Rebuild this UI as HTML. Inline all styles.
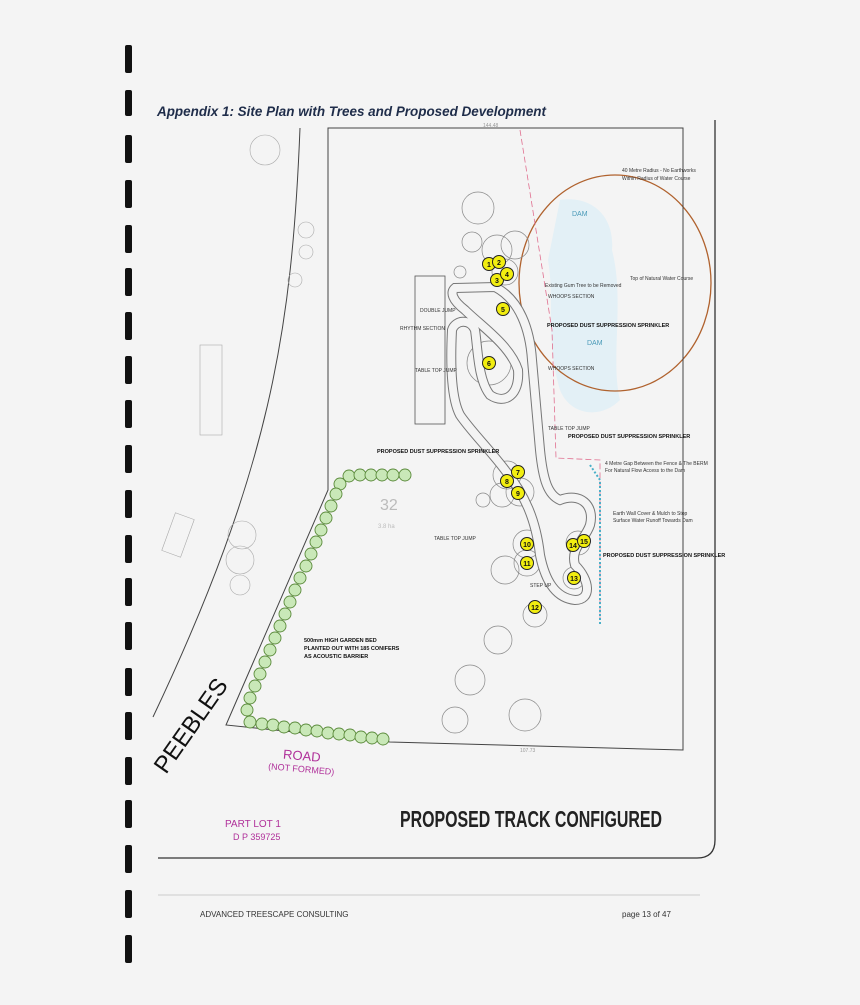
<!DOCTYPE html>
<html><head><meta charset="utf-8"><style>
html,body{margin:0;padding:0;background:#f4f4f4;}
body{width:860px;height:1005px;position:relative;overflow:hidden;font-family:"Liberation Sans",sans-serif;}
.bar{position:absolute;left:125px;width:7px;background:#111;border-radius:2px;}
</style></head><body>
<div class="bar" style="top:45px;height:28px"></div>
<div class="bar" style="top:90px;height:26px"></div>
<div class="bar" style="top:135px;height:28px"></div>
<div class="bar" style="top:180px;height:28px"></div>
<div class="bar" style="top:225px;height:28px"></div>
<div class="bar" style="top:268px;height:28px"></div>
<div class="bar" style="top:312px;height:28px"></div>
<div class="bar" style="top:356px;height:28px"></div>
<div class="bar" style="top:400px;height:28px"></div>
<div class="bar" style="top:445px;height:28px"></div>
<div class="bar" style="top:490px;height:28px"></div>
<div class="bar" style="top:535px;height:28px"></div>
<div class="bar" style="top:578px;height:28px"></div>
<div class="bar" style="top:622px;height:28px"></div>
<div class="bar" style="top:668px;height:28px"></div>
<div class="bar" style="top:712px;height:28px"></div>
<div class="bar" style="top:757px;height:28px"></div>
<div class="bar" style="top:800px;height:28px"></div>
<div class="bar" style="top:845px;height:28px"></div>
<div class="bar" style="top:890px;height:28px"></div>
<div class="bar" style="top:935px;height:28px"></div>
<svg width="860" height="1005" style="position:absolute;left:0;top:0" font-family="Liberation Sans, sans-serif">
<text x="157" y="116" font-size="14" font-weight="bold" font-style="italic" fill="#1f2d4a" textLength="389" lengthAdjust="spacingAndGlyphs">Appendix 1: Site Plan with Trees and Proposed Development</text>
<!-- frame -->
<path d="M715,120 L715,840 Q715,858 697,858 L158,858" fill="none" stroke="#333" stroke-width="1.3"/>
<line x1="158" y1="895" x2="700" y2="895" stroke="#ccc" stroke-width="1"/>
<!-- dam -->
<path d="M560,200 C590,195 615,215 612,250 C625,300 610,360 620,400 C600,420 570,415 560,390 C545,340 555,300 548,260 Z" fill="#e3f0f6"/>
<ellipse cx="615" cy="283" rx="96" ry="108" fill="none" stroke="#b0622e" stroke-width="1.3"/>
<!-- road lines -->
<path d="M300,128 C292,330 270,470 153,717" fill="none" stroke="#444" stroke-width="1"/>
<!-- lot boundary -->
<path d="M328,128 L683,128 L683,750 L390,742 L226,725 L328,490 Z" fill="none" stroke="#444" stroke-width="1"/>
<!-- pink dashed -->
<path d="M520,130 L552,330 L556,458 L600,460 L600,620" fill="none" stroke="#e07090" stroke-width="0.8" stroke-dasharray="6,3"/>
<path d="M590,465 L600,480 L600,625" fill="none" stroke="#4ab0c8" stroke-width="2" stroke-dasharray="2,2"/>
<!-- building -->
<rect x="415" y="276" width="30" height="148" fill="none" stroke="#555" stroke-width="0.8"/>
<!-- faint left structures -->
<g fill="none" stroke="#aaa" stroke-width="0.6">
<rect x="200" y="345" width="22" height="90"/>
<rect x="168" y="515" width="20" height="40" transform="rotate(20 178 535)"/>
<circle cx="306" cy="230" r="8"/><circle cx="306" cy="252" r="7"/><circle cx="295" cy="280" r="7"/>
<circle cx="265" cy="150" r="15"/><circle cx="242" cy="535" r="14"/><circle cx="240" cy="560" r="14"/><circle cx="240" cy="585" r="10"/>
</g>
<!-- tree canopies -->
<g fill="none" stroke="#888" stroke-width="0.7">
<circle cx="478" cy="208" r="16"/><circle cx="472" cy="242" r="10"/><circle cx="497" cy="250" r="15"/><circle cx="515" cy="245" r="14"/><circle cx="505" cy="272" r="13"/>
<circle cx="460" cy="272" r="6"/><circle cx="489" cy="363" r="22"/>
<circle cx="507" cy="475" r="14"/><circle cx="520" cy="492" r="14"/><circle cx="502" cy="495" r="12"/>
<circle cx="527" cy="544" r="14"/><circle cx="527" cy="563" r="13"/><circle cx="505" cy="570" r="14"/><circle cx="574" cy="578" r="11"/><circle cx="578" cy="543" r="12"/>
<circle cx="535" cy="615" r="12"/><circle cx="498" cy="640" r="14"/><circle cx="470" cy="680" r="15"/><circle cx="525" cy="715" r="16"/><circle cx="455" cy="720" r="13"/><circle cx="483" cy="500" r="7"/>
</g>
<!-- track -->
<path d="M455,288 L495,287 C520,300 530,330 532,360 L540,450 C543,480 548,495 560,500 C580,492 595,505 590,525 C585,540 570,548 575,565 C590,580 592,600 575,600 C555,598 545,580 540,555 C536,520 525,495 505,470 C490,450 470,430 460,415 C452,400 450,370 452,330 C455,320 470,318 475,330 C478,350 478,380 490,395 C505,405 520,395 518,370 C510,345 480,325 465,310 C452,300 450,292 455,288 Z" fill="none" stroke="#777" stroke-width="10"/>
<path d="M455,288 L495,287 C520,300 530,330 532,360 L540,450 C543,480 548,495 560,500 C580,492 595,505 590,525 C585,540 570,548 575,565 C590,580 592,600 575,600 C555,598 545,580 540,555 C536,520 525,495 505,470 C490,450 470,430 460,415 C452,400 450,370 452,330 C455,320 470,318 475,330 C478,350 478,380 490,395 C505,405 520,395 518,370 C510,345 480,325 465,310 C452,300 450,292 455,288 Z" fill="none" stroke="#f4f4f4" stroke-width="8"/>
<!-- hedge -->
<g fill="#c9e8b8" stroke="#5a8a3a" stroke-width="0.9">
<circle cx="349" cy="476" r="6"/><circle cx="360" cy="475" r="6"/><circle cx="371" cy="475" r="6"/><circle cx="382" cy="475" r="6"/><circle cx="393" cy="475" r="6"/><circle cx="405" cy="475" r="6"/>
<circle cx="340" cy="484" r="6"/><circle cx="336" cy="494" r="6"/><circle cx="331" cy="506" r="6"/><circle cx="326" cy="518" r="6"/><circle cx="321" cy="530" r="6"/><circle cx="316" cy="542" r="6"/><circle cx="311" cy="554" r="6"/><circle cx="306" cy="566" r="6"/><circle cx="300" cy="578" r="6"/><circle cx="295" cy="590" r="6"/><circle cx="290" cy="602" r="6"/><circle cx="285" cy="614" r="6"/><circle cx="280" cy="626" r="6"/><circle cx="275" cy="638" r="6"/><circle cx="270" cy="650" r="6"/><circle cx="265" cy="662" r="6"/><circle cx="260" cy="674" r="6"/><circle cx="255" cy="686" r="6"/><circle cx="250" cy="698" r="6"/><circle cx="247" cy="710" r="6"/>
<circle cx="250" cy="722" r="6"/><circle cx="262" cy="724" r="6"/><circle cx="273" cy="725" r="6"/><circle cx="284" cy="727" r="6"/><circle cx="295" cy="728" r="6"/><circle cx="306" cy="730" r="6"/><circle cx="317" cy="731" r="6"/><circle cx="328" cy="733" r="6"/><circle cx="339" cy="734" r="6"/><circle cx="350" cy="735" r="6"/><circle cx="361" cy="737" r="6"/><circle cx="372" cy="738" r="6"/><circle cx="383" cy="739" r="6"/>
</g>
<!-- numbered trees -->
<g fill="#f2ee10" stroke="#222" stroke-width="1">
<circle cx="489" cy="264" r="6.5"/><circle cx="499" cy="262" r="6.5"/><circle cx="497" cy="280" r="6.5"/><circle cx="507" cy="274" r="6.5"/><circle cx="503" cy="309" r="6.5"/><circle cx="489" cy="363" r="6.5"/><circle cx="518" cy="472" r="6.5"/><circle cx="507" cy="481" r="6.5"/><circle cx="518" cy="493" r="6.5"/><circle cx="527" cy="544" r="6.5"/><circle cx="527" cy="563" r="6.5"/><circle cx="535" cy="607" r="6.5"/><circle cx="574" cy="578" r="6.5"/><circle cx="573" cy="545" r="6.5"/><circle cx="584" cy="541" r="6.5"/>
</g>
<g font-size="7" font-weight="bold" text-anchor="middle" fill="#111">
<text x="489" y="267">1</text><text x="499" y="265">2</text><text x="497" y="283">3</text><text x="507" y="277">4</text><text x="503" y="312">5</text><text x="489" y="366">6</text><text x="518" y="475">7</text><text x="507" y="484">8</text><text x="518" y="496">9</text><text x="527" y="547">10</text><text x="527" y="566">11</text><text x="535" y="610">12</text><text x="574" y="581">13</text><text x="573" y="548">14</text><text x="584" y="544">15</text>
</g>
<!-- labels -->
<g font-size="5.5" fill="#111" font-weight="bold">
<text x="547" y="327">PROPOSED DUST SUPPRESSION SPRINKLER</text>
<text x="568" y="438">PROPOSED DUST SUPPRESSION SPRINKLER</text>
<text x="377" y="453">PROPOSED DUST SUPPRESSION SPRINKLER</text>
<text x="603" y="557">PROPOSED DUST SUPPRESSION SPRINKLER</text>
<text x="304" y="642">500mm HIGH GARDEN BED</text>
<text x="304" y="650">PLANTED OUT WITH 185 CONIFERS</text>
<text x="304" y="658">AS ACOUSTIC BARRIER</text>
</g>
<g font-size="5" fill="#333">
<text x="420" y="312">DOUBLE JUMP</text><text x="400" y="330">RHYTHM SECTION</text><text x="415" y="372">TABLE TOP JUMP</text>
<text x="545" y="287">Existing Gum Tree to be Removed</text><text x="548" y="298">WHOOPS SECTION</text><text x="548" y="370">WHOOPS SECTION</text>
<text x="548" y="430">TABLE TOP JUMP</text><text x="434" y="540">TABLE TOP JUMP</text><text x="530" y="587">STEP UP</text>
<text x="630" y="280">Top of Natural Water Course</text><text x="622" y="172">40 Metre Radius - No Earthworks</text><text x="622" y="180">Within Radius of Water Course</text>
<text x="605" y="465">4 Metre Gap Between the Fence &amp; The BERM</text><text x="605" y="472">For Natural Flow Access to the Dam</text>
<text x="613" y="515">Earth Wall Cover &amp; Mulch to Stop</text><text x="613" y="522">Surface Water Runoff Towards Dam</text>
<text x="483" y="127" fill="#999">144.48</text><text x="520" y="752" fill="#999">107.73</text>
</g>
<text x="572" y="216" font-size="7" fill="#4a9ab8">DAM</text>
<text x="587" y="345" font-size="7" fill="#4a9ab8">DAM</text>
<text x="380" y="510" font-size="16" fill="#bbb">32</text>
<text x="378" y="528" font-size="6" fill="#bbb">3.8 ha</text>
<text x="0" y="0" font-size="24" fill="#111" transform="translate(166,775) rotate(-55)">PEEBLES</text>
<text x="283" y="760" font-size="13" fill="#b0309a" transform="rotate(5 300 757)">ROAD</text>
<text x="268" y="772" font-size="9" fill="#b0309a" transform="rotate(5 300 770)">(NOT FORMED)</text>
<text x="225" y="827" font-size="10" fill="#b0309a">PART LOT 1</text>
<text x="233" y="840" font-size="9" fill="#b0309a">D P 359725</text>
<text x="400" y="827" font-size="23" font-weight="bold" fill="#222" textLength="262" lengthAdjust="spacingAndGlyphs">PROPOSED TRACK CONFIGURED</text>
<text x="200" y="917" font-size="8" fill="#333">ADVANCED TREESCAPE CONSULTING</text>
<text x="622" y="917" font-size="8" fill="#333">page 13 of 47</text>
</svg>
</body></html>
